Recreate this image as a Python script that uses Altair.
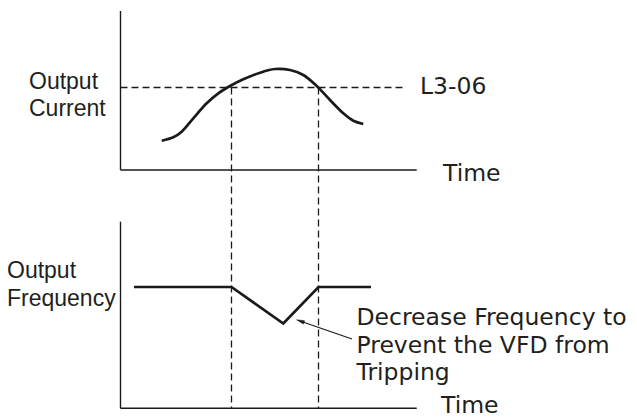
import altair as alt
import pandas as pd

# ---- data (diagram coordinates: x = time position, y = level position) ----
cur_x = [161.7, 173.3, 181.7, 193.3, 206.7, 218.3, 230, 243.3, 260, 275, 290, 303.3, 316.7, 330, 343.3, 353.3, 363.3]
cur_y = [140.7, 137.3, 131.7, 118.3, 103.3, 93.3, 86, 79.3, 72.7, 69, 70, 75, 86, 100, 113.3, 120.7, 124]

freq_x = [134, 231.5, 283.3, 318.5, 371]
freq_y = [287, 287, 323.5, 287, 287]

dash_x1 = [120.5, 231.5, 318.5]
dash_x2 = [405, 231.5, 318.5]
dash_y1 = [87.5, 87.5, 87.5]
dash_y2 = [87.5, 408.3, 408.3]

arrow_x = [300, 352]
arrow_y = [321, 339]
head_x = [300.3]
head_y = [321.1]

left_labels = ["Output", "Current", "Output", "Frequency"]
left_x = [29, 29, 7, 7]
left_y = [89, 116, 278.3, 306]

right_labels = ["L3-06", "Time", "Time", "Decrease Frequency to", "Prevent the VFD from", "Tripping"]
right_x = [420, 443, 441, 356.5, 356.5, 356.5]
right_y = [94.3, 181, 413, 325, 353.3, 380]

INK = "#1a1a1a"
TXT = "#231f20"

W, H = 621, 409
xs = alt.Scale(domain=[8, 8 + W], range=[0, W], nice=False, zero=False)
ys = alt.Scale(domain=[8, 8 + H], range=[0, H], nice=False, zero=False)

def X(f):
    return alt.X(f, type="quantitative", scale=xs, axis=None)

def Y(f):
    return alt.Y(f, type="quantitative", scale=ys, axis=None)

axes_df = pd.DataFrame({
    "x1": [120.5, 120.5, 120.5, 120.5],
    "y1": [11, 170, 221.7, 408.3],
    "x2": [120.5, 416.7, 120.5, 416.7],
    "y2": [170, 170, 408.3, 408.3],
})
axes = alt.Chart(axes_df).mark_rule(color=INK, strokeWidth=1.4).encode(
    x=X("x1"), y=Y("y1"), x2="x2", y2="y2")

dash_df = pd.DataFrame({"x1": dash_x1, "x2": dash_x2, "y1": dash_y1, "y2": dash_y2})
dashes = alt.Chart(dash_df).mark_rule(color=INK, strokeWidth=1.3, strokeDash=[7, 4]).encode(
    x=X("x1"), y=Y("y1"), x2="x2", y2="y2")

cur_df = pd.DataFrame({"x": cur_x, "y": cur_y, "o": list(range(len(cur_x)))})
current = alt.Chart(cur_df).mark_line(color=INK, strokeWidth=2.7, interpolate="catmull-rom").encode(
    x=X("x"), y=Y("y"), order="o:Q")

freq_df = pd.DataFrame({"x": freq_x, "y": freq_y, "o": list(range(len(freq_x)))})
freq = alt.Chart(freq_df).mark_line(color=INK, strokeWidth=2.7, strokeJoin="miter").encode(
    x=X("x"), y=Y("y"), order="o:Q")

arrow_df = pd.DataFrame({"x": arrow_x, "y": arrow_y, "o": [0, 1]})
arrow = alt.Chart(arrow_df).mark_line(color=INK, strokeWidth=1.2).encode(
    x=X("x"), y=Y("y"), order="o:Q")

head_df = pd.DataFrame({"x": head_x, "y": head_y})
head = alt.Chart(head_df).mark_point(
    shape="M0,-1L0.45,1L-0.45,1Z", filled=True, fill=INK, stroke=INK, strokeWidth=0.5,
    opacity=1, size=60, angle=289
).encode(x=X("x"), y=Y("y"))

left_df = pd.DataFrame({"x": left_x, "y": left_y, "t": left_labels})
left = alt.Chart(left_df).mark_text(
    font="Liberation Sans", fontSize=23, align="left", baseline="alphabetic", color=TXT
).encode(x=X("x"), y=Y("y"), text="t:N")

right_df = pd.DataFrame({"x": right_x, "y": right_y, "t": right_labels})
right = alt.Chart(right_df).mark_text(
    font="DejaVu Sans", fontSize=23.5, align="left", baseline="alphabetic", color=TXT
).encode(x=X("x"), y=Y("y"), text="t:N")

chart = alt.layer(axes, dashes, current, freq, arrow, head, left, right).properties(
    width=W, height=H, padding=0, autosize=alt.AutoSizeParams(type="none"),
    background="white"
).configure_view(stroke=None)

chart.save("out.html", embed_options={"renderer": "svg", "actions": False})
